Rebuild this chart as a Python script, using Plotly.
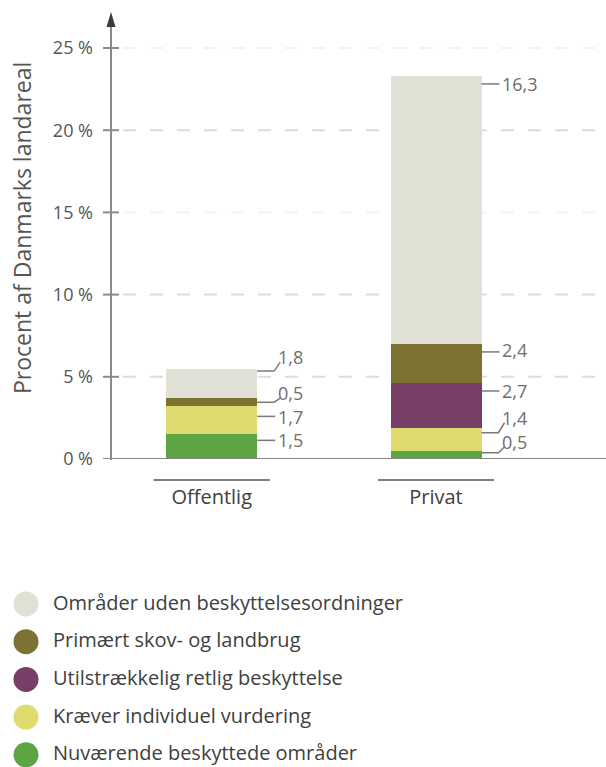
import plotly.graph_objects as go

# ---- data -------------------------------------------------------------
categories = ["Offentlig", "Privat"]

series_names = [
    "Nuværende beskyttede områder",
    "Kræver individuel vurdering",
    "Utilstrækkelig retlig beskyttelse",
    "Primært skov- og landbrug",
    "Områder uden beskyttelsesordninger",
]
nuvaerende = [1.5, 0.5]
kraever = [1.7, 1.4]
utilstraekkelig = [None, 2.7]
primaert = [0.5, 2.4]
uden = [1.8, 16.3]
series_values = [nuvaerende, kraever, utilstraekkelig, primaert, uden]

y_ticks = [0, 5, 10, 15, 20, 25]
y_title = "Procent af Danmarks landareal"

# ---- style ------------------------------------------------------------
colors = ["#5da543", "#e0db6f", "#773f65", "#7c7231", "#e0e0d5"]
FONT = "Open Sans"
W, H = 606, 767
L, R, T, B = 111, 0, 14, 308
PW, PH = W - L - R, H - T - B
YMAX = PH / (411 / 25)            # 25 % sits 411 px above the baseline
X_SCALE = 224.3                   # px per category step
X0 = -(211.7 - L) / X_SCALE
X1 = X0 + PW / X_SCALE
BAR_W = 91 / X_SCALE

# label nudges (px): leader drop below segment top, text rise above leader
leader_drop = {0: [6, 10, None, 4, 2.5], 1: [2, 5, 7.6, 8, 8]}
text_rise = {0: [0, -1, None, 9, 14], 1: [11, 15, 0, 2, 0]}


def ypx(v):
    return T + PH * (1 - v / YMAX)


def ydat(p):
    return (1 - (p - T) / PH) * YMAX


def xdat(p):
    return X0 + (p - L) / X_SCALE


def xpx(v):
    return L + (v - X0) * X_SCALE


def xpap(p):
    return (p - L) / PW


def ypap(p):
    return 1 - (p - T) / PH


fig = go.Figure()
for name, vals, col in zip(series_names, series_values, colors):
    fig.add_trace(go.Bar(
        x=categories, y=vals, name=name, width=BAR_W,
        marker=dict(color=col, line=dict(width=0)),
        showlegend=False, hoverinfo="skip",
    ))

shapes = []
annotations = []

# dashed gridlines
grid_col = {5: "#dcdcdc", 10: "#dcdcdc", 15: "#f1f4f4", 20: "#dcdcdc", 25: "#f1f4f4"}
for v in y_ticks[1:]:
    shapes.append(dict(type="line", xref="paper", yref="y", x0=xpap(123), x1=1,
                       y0=v, y1=v, layer="below",
                       line=dict(color=grid_col[v], width=2, dash="13px,14px")))

AX = "#8a8a8a"
# y axis with arrow
shapes.append(dict(type="line", xref="paper", yref="paper", x0=0, x1=0,
                   y0=ypap(460), y1=ypap(24), line=dict(color=AX, width=2)))
shapes.append(dict(type="path", xref="paper", yref="paper",
                   path=f"M {xpap(111)},{ypap(12)} L {xpap(115.5)},{ypap(27)} L {xpap(106.5)},{ypap(27)} Z",
                   fillcolor="#3a3a3a", line=dict(width=0)))
# baseline
shapes.append(dict(type="line", xref="paper", yref="y", x0=xpap(103), x1=1,
                   y0=0, y1=0, line=dict(color=AX, width=2)))
# tick marks crossing the axis
for v in y_ticks[1:]:
    shapes.append(dict(type="line", xref="paper", yref="y", x0=xpap(103), x1=xpap(119),
                       y0=v, y1=v, line=dict(color=AX, width=2)))

# category underlines
for i in range(len(categories)):
    shapes.append(dict(type="line", xref="x", yref="paper",
                       x0=i - 0.259, x1=i + 0.259, y0=ypap(480), y1=ypap(480),
                       line=dict(color="#555555", width=1.5)))

# value labels with leader lines
LBL = "#6e6e6e"
for ci in range(len(categories)):
    edge = xpx(ci) + BAR_W * X_SCALE / 2
    base = 0.0
    for si, vals in enumerate(series_values):
        v = vals[ci]
        if v is None:
            continue
        top = base + v
        base = top
        ly = ypx(top) + leader_drop[ci][si]
        rise = text_rise[ci][si]
        ty = ly - rise
        if rise > 3:
            path = (f"M {xdat(edge)},{ydat(ly)} L {xdat(edge + 17)},{ydat(ly)} "
                    f"L {xdat(edge + 23)},{ydat(ty + 5)}")
        else:
            path = f"M {xdat(edge)},{ydat(ly)} L {xdat(edge + 18)},{ydat(ly)}"
        shapes.append(dict(type="path", xref="x", yref="y", path=path,
                           line=dict(color="#7a7a7a", width=1.5)))
        annotations.append(dict(
            x=xdat(edge + 18.5), y=ydat(ty), xref="x", yref="y",
            text=f"{v:.1f}".replace(".", ","), showarrow=False,
            xanchor="left", yanchor="middle",
            font=dict(family=FONT, size=18, color=LBL)))

# y axis title
annotations.append(dict(x=xpap(22), y=ypap(228), xref="paper", yref="paper",
                        text=y_title, textangle=-90, showarrow=False,
                        xanchor="center", yanchor="middle",
                        font=dict(family=FONT, size=23, color="#555555")))

# legend (top item first)
for k, (name, col) in enumerate(zip(series_names[::-1], colors[::-1])):
    cy = 604 + k * 37.7
    shapes.append(dict(type="circle", xref="paper", yref="paper",
                       x0=xpap(13.5), x1=xpap(38.5), y0=ypap(cy - 12.5), y1=ypap(cy + 12.5),
                       fillcolor=col, line=dict(width=0)))
    annotations.append(dict(x=xpap(51), y=ypap(cy - 2), xref="paper", yref="paper",
                            text=name, showarrow=False, xanchor="left", yanchor="middle",
                            font=dict(family=FONT, size=20, color="#404040")))

fig.update_layout(
    width=W, height=H, autosize=False,
    margin=dict(l=L, r=R, t=T, b=B, pad=0),
    paper_bgcolor="white", plot_bgcolor="white",
    barmode="stack", bargap=0,
    showlegend=False,
    font=dict(family=FONT, color="#555555"),
    xaxis=dict(range=[X0, X1], showgrid=False, zeroline=False, showline=False,
               ticks="", tickfont=dict(family=FONT, size=20, color="#404040"),
               ticklabelstandoff=24, fixedrange=True),
    yaxis=dict(range=[0, YMAX], showgrid=False, zeroline=False, showline=False,
               tickvals=y_ticks, ticktext=[f"{t} %" for t in y_ticks], ticks="",
               tickfont=dict(family=FONT, size=18, color="#555555"),
               ticklabelstandoff=17, fixedrange=True),
    shapes=shapes, annotations=annotations,
)

fig.write_html("out.html", config={"displayModeBar": False})
